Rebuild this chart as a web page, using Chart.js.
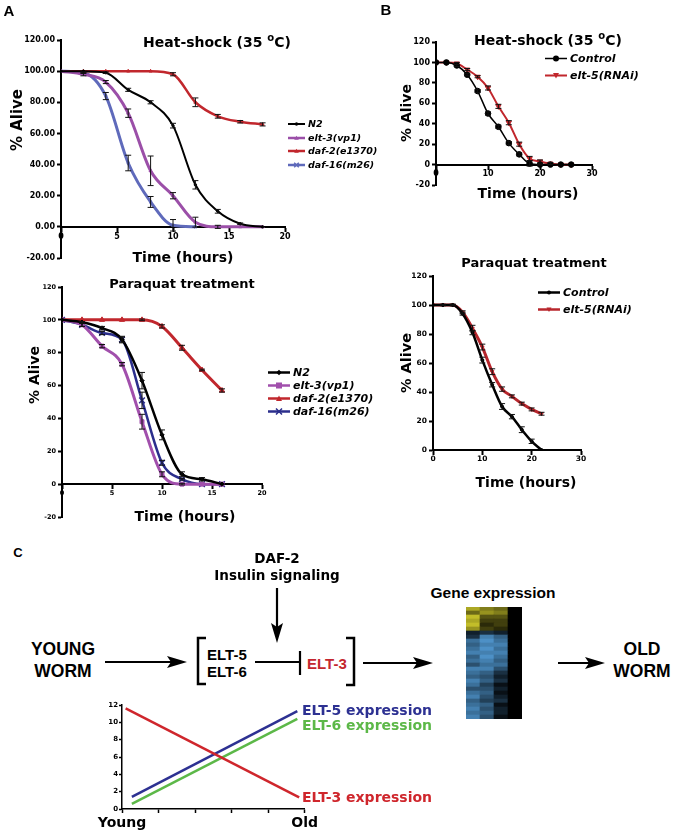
<!DOCTYPE html>
<html>
<head>
<meta charset="utf-8">
<script src="https://cdn.jsdelivr.net/npm/chart.js@4/dist/chart.umd.min.js"></script>
<style>
body { margin: 0; background: #fff; }
#fig { position: relative; width: 673px; height: 834px; overflow: hidden; background: #fff;
       font-family: "DejaVu Sans", sans-serif; font-weight: bold; color: #000; }
.box { position: absolute; }
.t { position: absolute; white-space: nowrap; line-height: 1; transform: translate(-50%, -50%); }
.r { position: absolute; white-space: nowrap; line-height: 1; transform: translate(-50%, -50%) rotate(-90deg); }
.l { position: absolute; white-space: nowrap; line-height: 1; transform: translateY(-50%); }
.lg { position: absolute; white-space: nowrap; line-height: 1; font-style: italic; display: flex; align-items: center; transform: translateY(-50%); }
.ar { font-family: "Liberation Sans", Arial, sans-serif; }
sup { font-size: 0.72em; vertical-align: 0.55em; line-height: 0; }
#ov { position: absolute; left: 0; top: 0; }
</style>
</head>
<body>
<div id="fig">
  <div class="box" style="left:0;top:0"><canvas id="aTop" width="340" height="270"></canvas></div>
  <div class="box" style="left:0;top:270px"><canvas id="aBot" width="340" height="260"></canvas></div>
  <div class="box" style="left:340px;top:0"><canvas id="bTop" width="333" height="220"></canvas></div>
  <div class="box" style="left:340px;top:220px"><canvas id="bBot" width="333" height="300"></canvas></div>
  <div class="box" style="left:60px;top:690px"><canvas id="cLine" width="260" height="144"></canvas></div>
  <div class="box" style="left:466px;top:607px"><canvas id="heat" width="56" height="112"></canvas></div>

  <!-- panel labels -->
  <div class="t ar" style="left:9px;top:10px;font-size:15px">A</div>
  <div class="t ar" style="left:386px;top:9px;font-size:15px">B</div>
  <div class="t ar" style="left:18px;top:552px;font-size:13px">C</div>

  <!-- panel A -->
  <div class="t" style="left:217px;top:42px;font-size:14px">Heat-shock (35 <sup>o</sup>C)</div>
  <div class="r" style="left:17px;top:120px;font-size:15px">% Alive</div>
  <div class="t" style="left:183px;top:257px;font-size:14px">Time (hours)</div>
  <div class="t" style="left:182px;top:283px;font-size:13px">Paraquat treatment</div>
  <div class="r" style="left:34px;top:375px;font-size:14px">% Alive</div>
  <div class="t" style="left:185px;top:516px;font-size:14px">Time (hours)</div>

  <!-- panel B -->
  <div class="t" style="left:548px;top:40px;font-size:14px">Heat-shock (35 <sup>o</sup>C)</div>
  <div class="r" style="left:406px;top:113px;font-size:14px">% Alive</div>
  <div class="t" style="left:528px;top:193px;font-size:14px">Time (hours)</div>
  <div class="t" style="left:534px;top:262px;font-size:13px">Paraquat treatment</div>
  <div class="r" style="left:406px;top:363px;font-size:14.5px">% Alive</div>
  <div class="t" style="left:526px;top:482px;font-size:14px">Time (hours)</div>

  <!-- panel C -->
  <div class="t" style="left:277px;top:559px;font-size:13.5px">DAF-2</div>
  <div class="t" style="left:277px;top:576px;font-size:13.5px">Insulin signaling</div>
  <div class="t ar" style="left:63px;top:650px;font-size:17.5px">YOUNG</div>
  <div class="t ar" style="left:63px;top:672px;font-size:17.5px">WORM</div>
  <div class="l ar" style="left:207px;top:654px;font-size:15px">ELT-5</div>
  <div class="l ar" style="left:207px;top:671px;font-size:15px">ELT-6</div>
  <div class="l ar" style="left:307px;top:663px;font-size:15px;color:#c4262e">ELT-3</div>
  <div class="t ar" style="left:493px;top:593px;font-size:15.5px">Gene expression</div>
  <div class="t ar" style="left:642px;top:650px;font-size:17.5px">OLD</div>
  <div class="t ar" style="left:642px;top:672px;font-size:17.5px">WORM</div>
  <div class="l" style="left:302px;top:710px;font-size:14px;color:#2d3192">ELT-5 expression</div>
  <div class="l" style="left:302px;top:725px;font-size:14px;color:#5cb848">ELT-6 expression</div>
  <div class="l" style="left:302px;top:797px;font-size:14px;color:#cf262c">ELT-3 expression</div>

  <svg id="ov" width="673" height="834">
    <g stroke="#000" stroke-width="2.2" fill="none">
      <line x1="105" y1="662" x2="178" y2="662"/>
      <line x1="277" y1="588" x2="277" y2="635"/>
      <line x1="255" y1="662" x2="300" y2="662"/>
      <line x1="300" y1="651" x2="300" y2="675"/>
      <line x1="363" y1="663" x2="425" y2="663"/>
      <line x1="558" y1="663" x2="597" y2="663"/>
      <path d="M206 638 H198 V684 H206" stroke-width="2.5"/>
      <path d="M346 638 H354 V685 H346" stroke-width="2.5"/>
    </g>
    <g fill="#000">
      <polygon points="187,662 167,656 171,662 167,668"/>
      <polygon points="277,643 271,623 277,627 283,623"/>
      <polygon points="433,663 413,657 417,663 413,669"/>
      <polygon points="605,663 585,657 589,663 585,669"/>
    </g>
  </svg>
</div>

<script>
// ---------- Panel A: heat-shock (35 C) ----------
const hsTime = [0, 2, 4, 6, 8, 10, 12, 14, 16, 18];
const hsN2 = [100, 100, 99, 88, 80, 65, 27, 10, 2, 0];
const hsN2Err = [0, 0, 0.5, 1, 1, 1.5, 2.7, 1.2, 0.5, 0];
const hsElt3 = [100, 98, 93, 73, 36, 20, 3, 0, 0, 0];
const hsElt3Err = [0, 1, 1, 2.7, 9.5, 2, 3.2, 1, 0, 0];
const hsDaf2 = [100, 100, 100, 100, 100, 98, 80, 71, 67.5, 65.8];
const hsDaf2Err = [0, 0, 0, 0, 0, 1, 2.8, 1.2, 0.8, 1];
const hsDaf16 = [100, 99, 84, 41, 16, 1, 0];
const hsDaf16Err = [0, 0.5, 2.3, 5, 3.5, 3.7, 0];

// ---------- Panel A: paraquat ----------
const pqTime = [0, 2, 4, 6, 8, 10, 12, 14, 16];
const pqN2 = [100, 98.5, 95, 88, 63, 30, 6, 3, 0];
const pqN2Err = [0, 0.5, 1, 1.5, 5, 3, 1.5, 1, 0];
const pqElt3 = [100, 97, 84, 73, 38, 6, 0, 0, 0];
const pqElt3Err = [0, 1, 1, 1, 4.5, 1.5, 0.5, 0, 0];
const pqDaf2 = [100, 100, 100, 100, 100, 96, 83, 69.5, 57];
const pqDaf2Err = [0, 0, 0, 0, 0.5, 1, 1.5, 0.5, 1];
const pqDaf16 = [100, 97, 92, 88, 51, 13, 3, 0, 0];
const pqDaf16Err = [0, 1, 1, 2, 5, 1.5, 0.5, 0, 0];

const strainsA = ['N2', 'elt-3(vp1)', 'daf-2(e1370)', 'daf-16(m26)'];

// ---------- Panel B: heat-shock ----------
const bhsTime = [0, 2, 4, 6, 8, 10, 12, 14, 16, 18, 20, 22, 24, 26];
const bhsCtrl = [100, 100, 97, 88, 72, 50, 37, 21, 10, 1, 0, 0, 0, 0];
const bhsCtrlErr = [0, 0, 1, 1, 1.5, 1.5, 1.5, 1.5, 1.5, 2.5, 0.5, 0, 0, 0];
const bhsElt5 = [100, 100, 99, 93, 86, 75, 57, 41, 20, 6, 3, 1, 0, 0];
const bhsElt5Err = [0, 0, 1, 1, 1, 2, 2, 2, 2, 2, 1.5, 1, 0, 0];

// ---------- Panel B: paraquat ----------
const bpqTime = [0, 2, 4, 6, 8, 10, 12, 14, 16, 18, 20, 22];
const bpqCtrl = [100, 100, 100, 94, 81, 62, 45, 30, 23, 14, 6, 0];
const bpqCtrlErr = [0, 0.5, 0.5, 1, 1.5, 2, 1.5, 2, 1.5, 2, 1.5, 0];
const bpqElt5 = [100, 100, 100, 95, 84, 71, 54, 42, 37, 32, 28, 25];
const bpqElt5Err = [0, 0, 0.5, 1, 2, 2, 2, 1.5, 1, 1, 1, 1];

const groupsB = ['Control', 'elt-5(RNAi)'];

// ---------- Panel C: expression with age ----------
const ageTicks = ['Young', '', '', '', '', 'Old'];
const elt3X = [0.1, 4.85];
const elt3Expr = [11.6, 1.35];
const elt56X = [0.27, 4.8];
const elt5Expr = [1.4, 11.3];
const elt6Expr = [0.6, 10.4];

// heat map columns, top row first (+ = yellow, - = blue, 0 = black)
const heatCols = ['c1', 'c2', 'c3', 'c4'];
const heatCol1 = [0.8, 0.5, 0.9, 0.8, 0.9, 0.7, -0.2, -0.3, -0.7, -0.6, -0.7, -0.8, -0.6, -0.7, -0.5, -0.8, -0.7, -0.6, -0.8, -0.7, -0.5, -0.7, -0.8, -0.6, -0.7, -0.8, -0.7, -0.8];
const heatCol2 = [0.6, 0.7, 0.4, 0.3, 0.2, 0.3, -0.3, -0.8, -0.9, -0.8, -0.9, -0.8, -0.9, -0.8, -0.7, -0.8, -0.6, -0.5, -0.6, -0.4, -0.5, -0.6, -0.5, -0.4, -0.6, -0.5, -0.6, -0.5];
const heatCol3 = [0.5, 0.6, 0.4, 0.3, 0.3, 0.2, -0.2, -0.6, -0.7, -0.8, -0.7, -0.8, -0.7, -0.6, -0.7, -0.5, -0.3, -0.2, -0.3, -0.1, -0.2, -0.1, -0.2, -0.3, -0.1, -0.2, -0.2, -0.1];
const heatCol4 = [0, 0, 0, 0, 0, 0, 0, 0, 0, 0, 0, 0, 0, 0, 0, 0, 0, 0, 0, 0, 0, 0, 0, 0, 0, 0, 0, 0];

const RED = '#c1272d';
const fig = document.getElementById('fig');

// error bars drawn with the chart's own y scale
const errorBars = {
  id: 'errorBars',
  afterDatasetsDraw(chart) {
    const ctx = chart.ctx;
    const yScale = chart.scales.y;
    chart.data.datasets.forEach((ds, i) => {
      if (!ds.errors) return;
      const meta = chart.getDatasetMeta(i);
      ctx.save();
      ctx.strokeStyle = ds.errorColor || '#111';
      ctx.lineWidth = 1;
      meta.data.forEach((pt, j) => {
        const e = ds.errors[j];
        const p = ds.data[j];
        if (!e || !p) return;
        const top = yScale.getPixelForValue(p.y + e);
        const bot = yScale.getPixelForValue(p.y - e);
        ctx.beginPath();
        ctx.moveTo(pt.x, top); ctx.lineTo(pt.x, bot);
        ctx.moveTo(pt.x - 3, top); ctx.lineTo(pt.x + 3, top);
        ctx.moveTo(pt.x - 3, bot); ctx.lineTo(pt.x + 3, bot);
        ctx.stroke();
      });
      ctx.restore();
    });
  }
};

function axisStyle(tickSize, tickWidth) {
  return {
    grid: { drawOnChartArea: false, drawTicks: true, tickLength: 4, tickWidth: tickWidth, color: '#000' },
    border: { width: tickWidth, color: '#000' },
    ticks: { font: { family: 'DejaVu Sans', weight: 'bold', size: tickSize }, color: '#000', padding: 2, maxRotation: 0 }
  };
}

function survivalChart(id, o) {
  const xs = axisStyle(o.tickSize, 2);
  const ys = axisStyle(o.tickSize, 2);
  new Chart(document.getElementById(id), {
    type: 'line',
    data: {
      datasets: o.series.map(s => ({
        label: s.label,
        data: s.v.map((v, i) => ({ x: s.t[i], y: v })),
        errors: s.e,
        borderColor: s.color,
        backgroundColor: s.color,
        borderWidth: s.w,
        cubicInterpolationMode: 'monotone',
        pointStyle: s.ps,
        pointRadius: s.r,
        pointRotation: s.rot || 0,
        pointBorderWidth: s.ps === 'crossRot' ? 1.5 : 1
      }))
    },
    options: {
      responsive: false,
      animation: false,
      devicePixelRatio: 1,
      layout: { padding: o.pad },
      plugins: { legend: { display: false }, tooltip: { enabled: false } },
      scales: {
        x: {
          type: 'linear', position: { y: 0 }, min: 0, max: o.xMax,
          grid: xs.grid, border: xs.border,
          ticks: Object.assign(xs.ticks, { stepSize: o.xStep, padding: 1 })
        },
        y: {
          min: o.yMin, max: o.yMax,
          grid: ys.grid, border: ys.border,
          ticks: Object.assign(ys.ticks, { stepSize: 20, callback: v => o.dec ? v.toFixed(2) : v }),
          afterFit: s => { s.width = o.yWidth; }
        }
      }
    },
    plugins: [errorBars]
  });
}

function marker(ps, cx, cy, r, c) {
  if (!r) return '';
  if (ps === 'rect') return `<rect x="${cx - r}" y="${cy - r}" width="${2 * r}" height="${2 * r}" fill="${c}"/>`;
  if (ps === 'rectRot') return `<polygon points="${cx},${cy - r} ${cx + r},${cy} ${cx},${cy + r} ${cx - r},${cy}" fill="${c}"/>`;
  if (ps === 'triangle') return `<polygon points="${cx},${cy - r} ${cx + r},${cy + r * 0.8} ${cx - r},${cy + r * 0.8}" fill="${c}"/>`;
  if (ps === 'triangleDown') return `<polygon points="${cx},${cy + r} ${cx + r},${cy - r * 0.8} ${cx - r},${cy - r * 0.8}" fill="${c}"/>`;
  if (ps === 'crossRot') return `<path d="M${cx - r} ${cy - r}L${cx + r} ${cy + r}M${cx - r} ${cy + r}L${cx + r} ${cy - r}" stroke="${c}" stroke-width="1.5"/>`;
  return `<circle cx="${cx}" cy="${cy}" r="${r}" fill="${c}"/>`;
}

function legend(x, y, gap, size, lineLen, series) {
  series.forEach((s, i) => {
    const d = document.createElement('div');
    d.className = 'lg';
    d.style.cssText = `left:${x}px;top:${y + i * gap}px;font-size:${size}px`;
    const ps = s.rot ? 'triangleDown' : s.ps;
    d.innerHTML = `<svg width="${lineLen + 2}" height="10" style="margin-right:1px">` +
      `<line x1="0" y1="5" x2="${lineLen}" y2="5" stroke="${s.color}" stroke-width="${Math.min(s.w, 2.5)}"/>` +
      marker(ps, lineLen / 2, 5, Math.min(s.r + 0.5, 3), s.color) + `</svg>` + s.label;
    fig.appendChild(d);
  });
}

// ----- A top -----
const seriesAHs = [
  { label: strainsA[0], t: hsTime, v: hsN2, e: hsN2Err, color: '#000', w: 2, ps: 'circle', r: 1.2 },
  { label: strainsA[1], t: hsTime, v: hsElt3, e: hsElt3Err, color: '#9b4fa8', w: 3, ps: 'triangle', r: 1.8 },
  { label: strainsA[2], t: hsTime, v: hsDaf2, e: hsDaf2Err, color: RED, w: 2.5, ps: 'triangle', r: 1.8 },
  { label: strainsA[3], t: hsTime, v: hsDaf16, e: hsDaf16Err, color: '#5f6abb', w: 3, ps: 'crossRot', r: 1.8 }
];
survivalChart('aTop', { series: seriesAHs, pad: { left: 0, top: 40, right: 55, bottom: 12 }, yWidth: 61,
  tickSize: 8, dec: true, yMin: -20, yMax: 120, xMax: 20, xStep: 5 });
legend(288, 124, 13.5, 9.5, 17, seriesAHs);

// ----- A bottom -----
const seriesAPq = [
  { label: strainsA[0], t: pqTime, v: pqN2, e: pqN2Err, color: '#000', w: 2.5, ps: 'rectRot', r: 2.2 },
  { label: strainsA[1], t: pqTime, v: pqElt3, e: pqElt3Err, color: '#a14fac', w: 3, ps: 'rect', r: 2.8 },
  { label: strainsA[2], t: pqTime, v: pqDaf2, e: pqDaf2Err, color: RED, w: 3, ps: 'triangle', r: 3 },
  { label: strainsA[3], t: pqTime, v: pqDaf16, e: pqDaf16Err, color: '#2b2e8c', w: 2.5, ps: 'crossRot', r: 4 }
];
survivalChart('aBot', { series: seriesAPq, pad: { left: 0, top: 17, right: 78, bottom: 13 }, yWidth: 62,
  tickSize: 6.5, dec: false, yMin: -20, yMax: 120, xMax: 20, xStep: 5 });
legend(268, 372, 13, 11, 22, seriesAPq);

// ----- B top -----
const seriesBHs = [
  { label: groupsB[0], t: bhsTime, v: bhsCtrl, e: bhsCtrlErr, color: '#000', w: 1.5, ps: 'circle', r: 2.8 },
  { label: groupsB[1], t: bhsTime, v: bhsElt5, e: bhsElt5Err, color: RED, w: 2, ps: 'triangle', r: 3, rot: 180 }
];
survivalChart('bTop', { series: seriesBHs, pad: { left: 0, top: 42, right: 81, bottom: 35 }, yWidth: 96,
  tickSize: 8, dec: false, yMin: -20, yMax: 120, xMax: 30, xStep: 10 });
legend(545, 58, 17, 11, 22, seriesBHs);

// ----- B bottom -----
const seriesBPq = [
  { label: groupsB[0], t: bpqTime, v: bpqCtrl, e: bpqCtrlErr, color: '#000', w: 2.5, ps: 'circle', r: 1.5 },
  { label: groupsB[1], t: bpqTime, v: bpqElt5, e: bpqElt5Err, color: '#b8262c', w: 3, ps: 'triangle', r: 2, rot: 180 }
];
survivalChart('bBot', { series: seriesBPq, pad: { left: 0, top: 56, right: 92, bottom: 70 }, yWidth: 93,
  tickSize: 7.5, dec: false, yMin: 0, yMax: 120, xMax: 30, xStep: 10 });
legend(538, 292, 17, 11, 22, seriesBPq);

// ----- C: expression vs age -----
const cx = axisStyle(14, 1.5);
const cy = axisStyle(7, 1.5);
new Chart(document.getElementById('cLine'), {
  type: 'line',
  data: {
    datasets: [
      { data: elt3X.map((x, i) => ({ x: x, y: elt3Expr[i] })), borderColor: '#cf262c', borderWidth: 2.5, pointRadius: 0 },
      { data: elt56X.map((x, i) => ({ x: x, y: elt5Expr[i] })), borderColor: '#2d3192', borderWidth: 2.5, pointRadius: 0 },
      { data: elt56X.map((x, i) => ({ x: x, y: elt6Expr[i] })), borderColor: '#5cb848', borderWidth: 2.5, pointRadius: 0 }
    ]
  },
  options: {
    responsive: false,
    animation: false,
    devicePixelRatio: 1,
    layout: { padding: { left: 0, top: 15, right: 15, bottom: 0 } },
    plugins: { legend: { display: false }, tooltip: { enabled: false } },
    scales: {
      x: {
        type: 'linear', min: 0, max: 5,
        grid: cx.grid, border: cx.border,
        ticks: Object.assign(cx.ticks, { stepSize: 1, autoSkip: false, padding: 2, callback: v => ageTicks[v] }),
        afterFit: s => { s.height = 25; }
      },
      y: {
        min: 0, max: 12,
        grid: Object.assign(cy.grid, { tickLength: 3 }), border: cy.border,
        ticks: Object.assign(cy.ticks, { stepSize: 2, padding: 1 }),
        afterFit: s => { s.width = 62; }
      }
    }
  }
});

// ----- C: heat map (stacked cells) -----
const heatMatrix = [heatCol1, heatCol2, heatCol3, heatCol4];
const nRows = heatCol1.length;
function heatColor(v) {
  if (v > 0) return `rgb(${Math.round(215 * v)},${Math.round(210 * v)},${Math.round(45 * v)})`;
  const a = -v;
  return `rgb(${Math.round(85 * a)},${Math.round(160 * a)},${Math.round(220 * a)})`;
}
const heatSets = [];
for (let r = nRows - 1; r >= 0; r--) {
  heatSets.push({
    data: heatCols.map(() => 1),
    backgroundColor: heatMatrix.map(col => heatColor(col[r])),
    borderWidth: 0,
    barPercentage: 1,
    categoryPercentage: 1
  });
}
new Chart(document.getElementById('heat'), {
  type: 'bar',
  data: { labels: heatCols, datasets: heatSets },
  options: {
    responsive: false,
    animation: false,
    devicePixelRatio: 1,
    layout: { padding: 0 },
    plugins: { legend: { display: false }, tooltip: { enabled: false } },
    scales: {
      x: { display: false, stacked: true },
      y: { display: false, stacked: true, min: 0, max: nRows }
    }
  }
});
</script>
</body>
</html>
